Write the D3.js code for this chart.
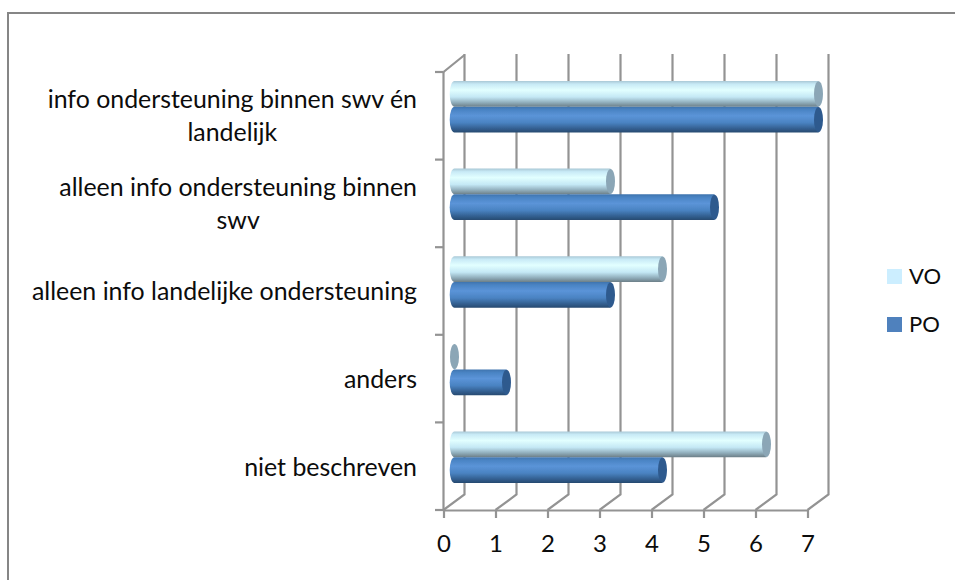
<!DOCTYPE html>
<html><head><meta charset="utf-8">
<script src="https://cdn.jsdelivr.net/npm/d3@7/dist/d3.min.js"></script>
<style>html,body{margin:0;padding:0;background:#fff}svg{display:block}text{font-family:Lato,"Open Sans",sans-serif;fill:#0c0c0c}</style>
</head><body><svg id="c" width="955" height="580"></svg>
<script>
const categories = ["info ondersteuning binnen swv én landelijk","alleen info ondersteuning binnen swv","alleen info landelijke ondersteuning","anders","niet beschreven"];
const categoryLines = [["info ondersteuning binnen swv én","landelijk"],["alleen info ondersteuning binnen","swv"],["alleen info landelijke ondersteuning"],["anders"],["niet beschreven"]];
const seriesNames = ["VO","PO"];
const valuesVO = [7,3,4,0,6];
const valuesPO = [7,5,3,1,4];
const seriesColors = ["#cceeff","#4f81bd"];
const capColors = ["#8ba6b6","#2f5a8e"];
const gradients = [
  [[0,"#a9c8d6"],[.12,"#c8eaf6"],[.35,"#e2ffff"],[.62,"#c4e8f5"],[.82,"#94b2c0"],[1,"#6c7f88"]],
  [[0,"#3f74ae"],[.12,"#4a84c4"],[.35,"#5b94d8"],[.62,"#4a83c2"],[.85,"#335f90"],[1,"#274a70"]]
];
const dataBySeries = [valuesVO, valuesPO];

const svg = d3.select("#c");
const defs = svg.append("defs");
defs.append("filter").attr("id","soft").append("feGaussianBlur").attr("stdDeviation",0.45);
gradients.forEach((stops,i)=>{
  const g = defs.append("linearGradient").attr("id","g"+i).attr("x1",0).attr("x2",0).attr("y1",0).attr("y2",1);
  stops.forEach(s=>g.append("stop").attr("offset",s[0]).attr("stop-color",s[1]));
});

// chart frame
svg.append("path").attr("d","M8,580V13H955").attr("fill","none").attr("stroke","#868686").attr("stroke-width",2);

const x = d3.scaleLinear().domain([0,7]).range([443.5,807.5]);
const y = d3.scaleBand().domain(categories).range([72,510]);
const labelY = d3.scaleBand().domain(categories).range([71.5,511]);
const depthX = 21, depthY = 15.5;
const gridColor = "#939393";

// walls and gridlines
const grid = svg.append("g").attr("fill","none").attr("stroke",gridColor).attr("stroke-width",2.2);
grid.selectAll("path").data(x.ticks(7)).join("path")
  .attr("d",d=>`M${x(d)},510L${x(d)+depthX},${510-depthY}V54`);
grid.append("path").attr("d",`M${x(0)},72L${x(0)+depthX},55`);

// axes
const xAxis = svg.append("g").attr("transform","translate(0,510)")
  .call(d3.axisBottom(x).ticks(7).tickSize(8).tickSizeOuter(0));
xAxis.select(".domain").attr("stroke",gridColor).attr("stroke-width",2.2);
xAxis.selectAll(".tick line").attr("stroke",gridColor).attr("stroke-width",2.2);
xAxis.selectAll(".tick text").attr("y",34).attr("dy","0.35em").style("font-size","24px");

const catTicks = [...categories.map(c=>y(c)), 510];
const yg = svg.append("g").attr("fill","none").attr("stroke",gridColor).attr("stroke-width",2.2);
yg.append("path").attr("d",`M${x(0)},72V510`);
yg.selectAll("line").data(catTicks).join("line")
  .attr("x1",435).attr("x2",x(0)).attr("y1",d=>d).attr("y2",d=>d);

// category labels
const labels = svg.append("g");
categories.forEach((c,i)=>{
  const lines = categoryLines[i];
  const cy = labelY(c)+labelY.bandwidth()/2;
  const t = labels.append("text").attr("text-anchor","middle").style("font-size","24.9px");
  const spans = t.selectAll("tspan").data(lines).join("tspan")
    .attr("y",(d,k)=>cy+(k-(lines.length-1)/2)*33+9)
    .text(d=>d);
  // block is right aligned at x=417, lines are centred inside it
  const w = d3.max(spans.nodes(), n=>n.getComputedTextLength());
  spans.attr("x",417-w/2);
});

// bars
const barX = v => x(v)+11;
const rx = 4.8;
const inner = d3.scaleBand().domain(seriesNames).range([9,60.5]);
const bars = svg.append("g").attr("filter","url(#soft)");
categories.forEach((c,i)=>{
  seriesNames.forEach((s,k)=>{
    const v = dataBySeries[k][i];
    const top = y(c)+inner(s), h = inner.bandwidth(), ry = h/2;
    if (v>0) bars.append("path")
      .attr("d",`M${barX(0)},${top}A${rx},${ry} 0 0 0 ${barX(0)},${top+h}H${barX(v)}V${top}Z`)
      .attr("fill",`url(#g${k})`);
    bars.append("ellipse").attr("cx",barX(v)).attr("cy",top+ry).attr("rx",rx-.3).attr("ry",ry-.3).attr("fill",capColors[k]);
  });
});

// legend
const legend = svg.append("g");
seriesNames.forEach((s,k)=>{
  const ly = 269+48*k;
  legend.append("rect").attr("x",887).attr("y",ly).attr("width",15).attr("height",15).attr("fill",seriesColors[k]);
  legend.append("text").attr("x",909).attr("y",ly+15).style("font-size","22px").text(s);
});
</script></body></html>
